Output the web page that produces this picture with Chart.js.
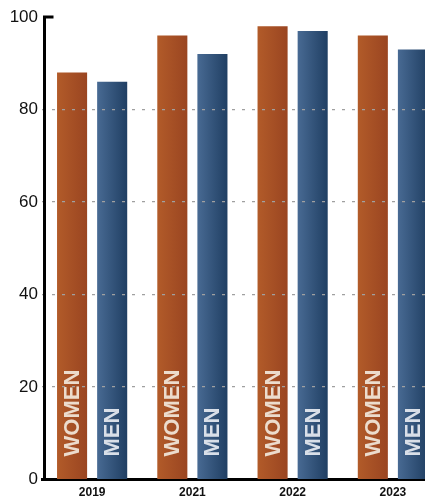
<!DOCTYPE html>
<html>
<head>
<meta charset="utf-8">
<script src="https://cdn.jsdelivr.net/npm/chart.js@4/dist/chart.umd.min.js"></script>
<style>
  html, body { margin: 0; padding: 0; background: #fff; overflow: hidden; }
  #wrap { width: 443px; height: 497px; }
</style>
</head>
<body>
<div id="wrap"><canvas id="chart" width="443" height="497"></canvas></div>
<script>
// values
const years = ['2019', '2021', '2022', '2023'];
const women = [88, 96, 98, 96];
const men = [86, 92, 97, 93];
const yTicks = [0, 20, 40, 60, 80, 100];
const barNames = ['WOMEN', 'MEN'];

const catPct = 0.8;
const barPct = 0.75;
const FONT = "'Liberation Sans', Arial, sans-serif";

// left-to-right gradient on each bar, worked out from the x scale
function barFill(c0, c1) {
  return function (ctx) {
    const chart = ctx.chart;
    const xs = chart.scales.x;
    if (ctx.type !== 'data' || !xs || !chart.chartArea) return c0;
    const w = xs.width / years.length;
    const slot = w * catPct / 2;
    const center = xs.getPixelForValue(ctx.dataIndex) - w * catPct / 2 + slot * (ctx.datasetIndex + 0.5);
    const half = slot * barPct / 2;
    const g = chart.ctx.createLinearGradient(center - half, 0, center + half, 0);
    g.addColorStop(0, c0);
    g.addColorStop(1, c1);
    return g;
  };
}

// names written up the bars + the axis line with its little top tick
const decor = {
  id: 'decor',
  afterDatasetsDraw(chart) {
    const ctx = chart.ctx;
    const y0 = chart.scales.y.getPixelForValue(0);
    ctx.save();
    ctx.font = "bold 22px " + FONT;
    ctx.textAlign = 'left';
    ctx.textBaseline = 'middle';
    chart.data.datasets.forEach((ds, di) => {
      chart.getDatasetMeta(di).data.forEach(bar => {
        ctx.save();
        ctx.translate(bar.x, y0 - 23);
        ctx.rotate(-Math.PI / 2);
        ctx.fillStyle = di === 0 ? '#ecdccd' : '#d9dfe8';
        ctx.fillText(barNames[di], 0, 1);
        ctx.restore();
      });
    });
    ctx.restore();
  },
  afterDraw(chart) {
    const ctx = chart.ctx;
    const a = chart.chartArea;
    const yTop = chart.scales.y.getPixelForValue(100);
    const x = a.left + 2.5;
    ctx.save();
    ctx.strokeStyle = '#000';
    ctx.lineWidth = 3;
    ctx.beginPath();
    ctx.moveTo(x + 9, yTop);
    ctx.lineTo(x, yTop);
    ctx.lineTo(x, a.bottom + 1);
    ctx.stroke();
    ctx.restore();
  }
};

new Chart(document.getElementById('chart'), {
  type: 'bar',
  data: {
    labels: years,
    datasets: [
      { label: 'Women', data: women, backgroundColor: barFill('#b25b29', '#9a4521') },
      { label: 'Men', data: men, backgroundColor: barFill('#486a93', '#203f63') }
    ]
  },
  options: {
    responsive: false,
    animation: false,
    devicePixelRatio: 1,
    categoryPercentage: catPct,
    barPercentage: barPct,
    layout: { padding: { top: 17, right: 0, left: 0, bottom: 0 } },
    plugins: { legend: { display: false }, tooltip: { enabled: false } },
    scales: {
      x: {
        grid: { display: false, drawTicks: false },
        border: { display: true, color: '#000', width: 3 },
        ticks: { color: '#111', padding: 6, font: { family: FONT, size: 12, weight: 'bold' } },
        afterFit(s) { s.height = 17.5; }
      },
      y: {
        min: 0,
        max: 100,
        afterBuildTicks(s) { s.ticks = yTicks.map(v => ({ value: v })); },
        grid: {
          z: 1,
          drawTicks: false,
          color: c => (c.tick && (c.tick.value === 0 || c.tick.value === 100)) ? 'rgba(0,0,0,0)' : '#a0a0a0',
          lineWidth: 1.2
        },
        border: { display: false, dash: [3, 7] },
        ticks: { color: '#111', padding: 4, font: { family: FONT, size: 17 } },
        afterFit(s) { s.width = 42; }
      }
    }
  },
  plugins: [decor]
});
</script>
</body>
</html>
